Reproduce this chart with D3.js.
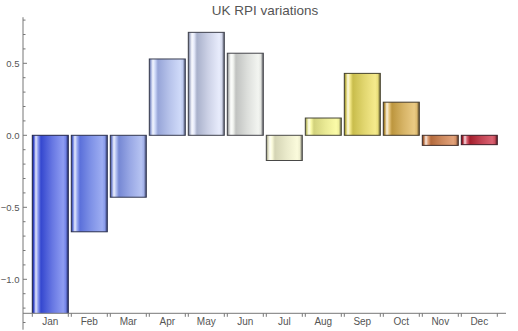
<!DOCTYPE html>
<html><head><meta charset="utf-8">
<script src="https://cdn.jsdelivr.net/npm/d3@7"></script>
<style>body{margin:0;background:#fff}svg{display:block}</style>
</head><body>
<svg id="c" width="518" height="331"></svg>
<script>
const months = ["Jan","Feb","Mar","Apr","May","Jun","Jul","Aug","Sep","Oct","Nov","Dec"];
const values = [-1.30,-0.67,-0.43,0.53,0.715,0.57,-0.175,0.12,0.43,0.23,-0.07,-0.065];
const yTickValues = [-1.0,-0.5,0.0,0.5];
const yTickLabels = ["\u22121.0","\u22120.5","0.0","0.5"];
const darkColors  = ["#3447cf","#5b70da","#7688d4","#97a5d8","#a9b1cb","#c0c2c0","#d4d4b4","#d2d27c","#c9bd4c","#bd963e","#b46a3c","#a41e2c"];
const lightColors = ["#8e9cf2","#9dadf2","#b6c3f2","#cfdaf9","#e8ecfc","#f3f5f1","#fbfbdc","#fbfba8","#f5ea8c","#eaca84","#e2a27a","#da6272"];
const title = "UK RPI variations";

const svg = d3.select("#c");
const x = d3.scaleBand().domain(months).range([32.3, 497.3]).paddingInner(3/39).paddingOuter(0);
const y = d3.scaleLinear().domain([-1.3, 0.8]).range([135.3 + 1.3*144, 135.3 - 0.8*144]);
const xAxisY = 313.3;
const axisX = 23;

const defs = svg.append("defs");
defs.append("clipPath").attr("id","clip").append("rect")
  .attr("x", 0).attr("y", 0).attr("width", 518).attr("height", xAxisY);

months.forEach((m,i)=>{
  const d = darkColors[i], l = lightColors[i];
  const edge = d3.interpolateRgb(d, "#10101a")(0.55);
  const hi = d3.interpolateRgb(l, "#ffffff")(0.75);
  const g = defs.append("linearGradient").attr("id","g"+i).attr("x1","0").attr("x2","1").attr("y1","0").attr("y2","0");
  [[0,edge],[0.04,d],[0.10,hi],[0.16,l],[0.24,d],[0.55,d3.interpolateRgb(d,l)(0.55)],[0.86,l],[0.93,d3.interpolateRgb(l,d)(0.3)],[1,edge]]
    .forEach(([o,c])=>g.append("stop").attr("offset",o).attr("stop-color",c));
});

const bars = svg.append("g").attr("clip-path","url(#clip)");
bars.selectAll("rect").data(values).join("rect")
  .attr("x",(v,i)=>x(months[i]))
  .attr("width",x.bandwidth())
  .attr("y",v=>y(Math.max(0,v)))
  .attr("height",v=>Math.abs(y(v)-y(0)))
  .attr("fill",(v,i)=>`url(#g${i})`)
  .attr("stroke",(v,i)=>d3.interpolateRgb(darkColors[i], "#1a1a22")(0.75))
  .attr("stroke-width",1);

const axisColor = "#777";
const textColor = "#555";
// Y axis
const yAxisG = svg.append("g");
yAxisG.append("line").attr("x1",axisX).attr("x2",axisX).attr("y1",y(0.82)).attr("y2",y(-1.35))
  .attr("stroke",axisColor).attr("stroke-width",1);
const minor = d3.range(-13, 9).map(k=>k/10);
yAxisG.selectAll("line.t").data(minor).join("line").attr("class","t")
  .attr("x1",axisX).attr("x2",v=>axisX + (Math.abs(Math.round(v*10))%5===0 ? 4 : 2.5))
  .attr("y1",v=>y(v)).attr("y2",v=>y(v)).attr("stroke",axisColor);
yAxisG.selectAll("text").data(yTickValues).join("text")
  .attr("x",19.5).attr("y",v=>y(v)).attr("dy","0.35em").attr("text-anchor","end")
  .attr("font-family","Liberation Sans, Arial, sans-serif").attr("font-size",9.5).attr("fill",textColor)
  .text((v,i)=>yTickLabels[i]);

// X axis
const xAxisG = svg.append("g");
xAxisG.append("line").attr("x1",axisX).attr("x2",506).attr("y1",xAxisY).attr("y2",xAxisY)
  .attr("stroke",axisColor);
const edges = [];
months.forEach(m=>{edges.push(x(m)); edges.push(x(m)+x.bandwidth());});
xAxisG.selectAll("line.t").data(edges).join("line").attr("class","t")
  .attr("x1",v=>v).attr("x2",v=>v).attr("y1",xAxisY).attr("y2",xAxisY+3.5).attr("stroke",axisColor);
xAxisG.selectAll("text").data(months).join("text")
  .attr("x",m=>x(m)+x.bandwidth()/2).attr("y",324.5).attr("text-anchor","middle")
  .attr("font-family","Liberation Sans, Arial, sans-serif").attr("font-size",10).attr("fill",textColor)
  .text(m=>m);

svg.append("text").attr("x",265).attr("y",15).attr("text-anchor","middle")
  .attr("font-family","Liberation Sans, Arial, sans-serif").attr("font-size",13.5).attr("fill","#555")
  .text(title);
</script>
</body></html>
